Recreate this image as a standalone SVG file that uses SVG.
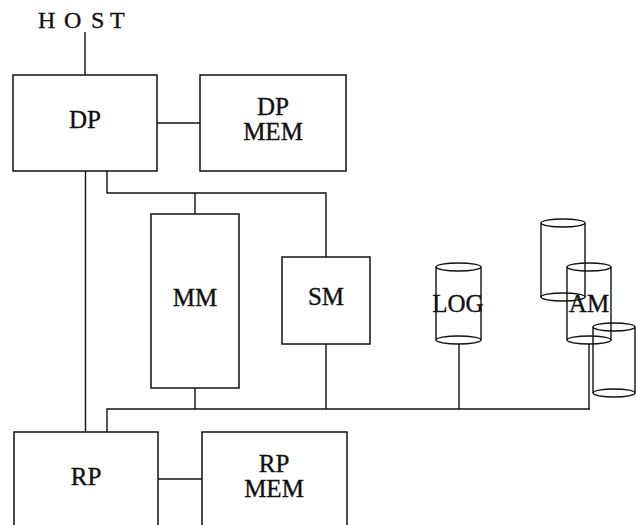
<svg xmlns="http://www.w3.org/2000/svg" width="636" height="525" viewBox="0 0 636 525">
<style>
.b{fill:none;stroke:#111;stroke-width:1.5}
.c{fill:none;stroke:#111;stroke-width:1.4}
.t{font-family:"Liberation Serif","Times New Roman",serif;font-size:25px;fill:#111;stroke:#111;stroke-width:0.35;text-anchor:middle}
</style>
<rect width="636" height="525" fill="#fff"/>
<g id="connectors" class="c">
<path d="M85 32V75"/>
<path d="M157 123H200"/>
<path d="M85.5 171V432"/>
<path d="M107 171V193H326V257"/>
<path d="M195 193V214"/>
<path d="M195 388V409"/>
<path d="M326 344V409"/>
<path d="M459 344V409"/>
<path d="M589 344V409"/>
<path d="M107 432V409H590"/>
<path d="M158 479H202"/>
</g>
<text id="host" class="t" style="text-anchor:start;font-size:24px" x="38 64 91 110" y="28">HOST</text>
<g id="dp"><rect class="b" x="13" y="75" width="144" height="96"/><text class="t" x="85" y="128">DP</text></g>
<g id="dpmem"><rect class="b" x="200" y="75" width="146" height="96"/><text class="t" x="273" y="115">DP</text><text class="t" x="273" y="140">MEM</text></g>
<g id="mm"><rect class="b" x="151" y="214" width="88" height="174"/><text class="t" x="195" y="306">MM</text></g>
<g id="sm"><rect class="b" x="282" y="257" width="88" height="87"/><text class="t" x="326" y="305">SM</text></g>
<g id="log" class="c">
<ellipse cx="458.5" cy="267" rx="22.5" ry="4"/>
<path d="M436 267V340M481 267V340"/>
<ellipse cx="458.5" cy="340" rx="22.5" ry="4"/>
<text class="t" x="458" y="312">LOG</text>
</g>
<g id="am" class="c">
<ellipse cx="563" cy="223" rx="22" ry="4"/>
<path d="M541 223V297M585 223V297"/>
<ellipse cx="563" cy="297" rx="22" ry="4"/>
<ellipse cx="589" cy="267" rx="22" ry="4"/>
<path d="M567 267V340M611 267V340"/>
<ellipse cx="589" cy="340" rx="22" ry="4"/>
<ellipse cx="614" cy="327" rx="21" ry="4"/>
<path d="M593 327V393M635 327V393"/>
<ellipse cx="614" cy="393" rx="21" ry="4"/>
<text class="t" x="589" y="312">AM</text>
</g>
<g id="rp"><rect class="b" x="14" y="432" width="144" height="100"/><text class="t" x="86" y="485">RP</text></g>
<g id="rpmem"><rect class="b" x="202" y="432" width="145" height="100"/><text class="t" x="274" y="472">RP</text><text class="t" x="274" y="497">MEM</text></g>
</svg>
